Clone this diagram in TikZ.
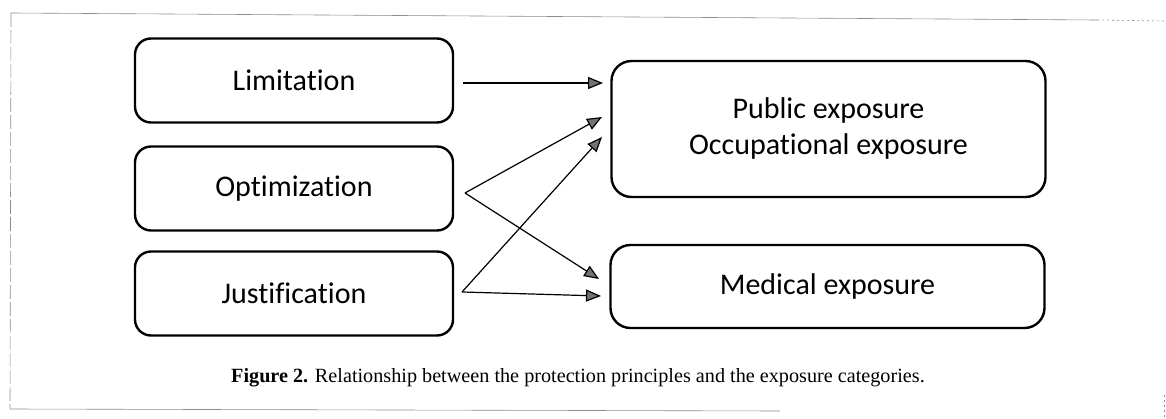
\documentclass[tikz,border=0pt]{standalone}
\usepackage{fontspec}
\setmainfont{Liberation Serif}
\newfontfamily\boxfont[RawFeature=-liga]{Carlito}
\usetikzlibrary{arrows.meta}
\begin{document}
\begin{tikzpicture}[x=1pt,y=-1pt,
  principle/.style={draw=black, line width=2.4pt, rounded corners=16pt,
    minimum width=318pt, minimum height=84pt, inner sep=0pt,
    font=\boxfont\fontsize{30}{36}\selectfont},
  category/.style={draw=black, line width=2.4pt, rounded corners=20pt,
    minimum width=434pt, inner sep=0pt, align=center,
    font=\boxfont\fontsize{30}{36}\selectfont},
  link/.style={line width=1.2pt, draw=black,
    -{Triangle[length=15pt,width=12pt,fill=black!55]}},
  frame/.style={draw=black!45, line width=0.6pt}
]
\useasboundingbox (0,0) rectangle (1166,419);

% page frame
\draw[frame] (11,13) -- (1097,20);
\draw[frame, dash pattern=on 2pt off 3pt] (1097,20) -- (1166,21);
\draw[frame, dash pattern=on 14pt off 3pt] (11,13) -- (10,409);
\draw[frame] (10,409) -- (780,411);
\draw[frame, dash pattern=on 2pt off 3pt] (1164,395) -- (1164,419);

% protection principles
\node[principle] (lim) at (294,80.5) {Limitation};
\node[principle] (opt) at (294,188.5) {Optimization};
\node[principle] (jus) at (294,293.5) {Justification};

% exposure categories
\node[category, minimum height=136pt] (pub) at (828.5,129)
  {Public exposure\\Occupational exposure};
\node[category, minimum height=83pt] (med) at (827.5,286.5) {Medical exposure};

% connector ends
\coordinate (limO) at (463,83);
\coordinate (optO) at (465,193);
\coordinate (jusO) at (462,292);
\coordinate (pubL) at (603,83);
\coordinate (pubO) at (602,117);
\coordinate (pubJ) at (602,137);
\coordinate (medO) at (599,279);
\coordinate (medJ) at (601,296);

\draw[link] (limO) -- (pubL);
\draw[link] (optO) -- (pubO);
\draw[link] (optO) -- (medO);
\draw[link] (jusO) -- (pubJ);
\draw[link] (jusO) -- (medJ);

% caption
\node[anchor=base west, inner sep=0pt, font=\fontsize{20.2}{24}\selectfont] (cap) at (231,382)
  {\textbf{Figure 2.} Relationship between the protection principles and the exposure categories.};
\end{tikzpicture}
\end{document}
